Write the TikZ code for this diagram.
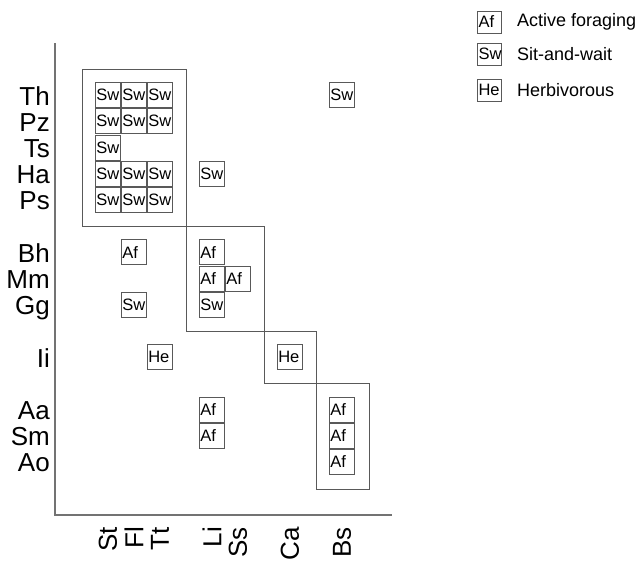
\documentclass[tikz,border=0pt]{standalone}
\usepackage{fontspec}
\setmainfont{Liberation Sans}
\tikzset{
  cell/.style={draw=black!65, line width=0.8pt, inner xsep=0.8pt, inner ysep=0pt,
    text width=23.4pt, minimum height=25pt, align=left, font=\fontsize{16.5}{16.5}\selectfont},
  legbox/.style={cell, text width=22pt, minimum height=22pt},
  legtext/.style={anchor=west, inner sep=0pt, font=\fontsize{18}{18}\selectfont},
  species/.style={anchor=base east, inner sep=0pt, font=\fontsize{26}{26}\selectfont},
  prey/.style={rotate=90, anchor=east, inner sep=0pt, font=\fontsize{26}{26}\selectfont},
  group/.style={draw=black!65, line width=0.8pt},
  axis/.style={draw=black!55, line width=1.2pt},
}
\begin{document}
\begin{tikzpicture}[x=1pt,y=-1pt]
\useasboundingbox (0,0) rectangle (644,562);
% axes
\coordinate (top) at (55,43);
\coordinate (orig) at (55,515);
\coordinate (end) at (392,515);
\draw[axis] (top) -- (orig) -- (end);
% predators (rows)
\foreach \n/\r in {Th/0,Pz/1,Ts/2,Ha/3,Ps/4,Bh/6,Mm/7,Gg/8,Ii/10,Aa/12,Sm/13,Ao/14}
  \node[species] (s-\n) at (50,{95+26.2*\r+10}) {\n};
% prey (columns)
\foreach \n/\c in {St/0,Fl/1,Tt/2,Li/4,Ss/5,Ca/7,Bs/9}
  \node[prey] (p-\n) at ({108+26*\c},527) {\n};
% cells
\foreach \r/\c/\t in {0/0/Sw,0/1/Sw,0/2/Sw,0/9/Sw,
    1/0/Sw,1/1/Sw,1/2/Sw,
    2/0/Sw,
    3/0/Sw,3/1/Sw,3/2/Sw,3/4/Sw,
    4/0/Sw,4/1/Sw,4/2/Sw,
    6/1/Af,6/4/Af,
    7/4/Af,7/5/Af,
    8/1/Sw,8/4/Sw,
    10/2/He,10/7/He,
    12/4/Af,12/9/Af,
    13/4/Af,13/9/Af,
    14/9/Af}
  \node[cell] (c-\r-\c) at ({108+26*\c},{95+26.2*\r}) {\t};
% groups
\draw[group] (82,69) rectangle (186,226);
\draw[group] (186,226) rectangle (264,331);
\draw[group] (264,331) rectangle (316,383);
\draw[group] (316,383) rectangle (369,489);
% legend
\node[legbox] (k-af) at (489.5,22) {Af};
\node[legbox] (k-sw) at (489.5,54) {Sw};
\node[legbox] (k-he) at (489.5,90) {He};
\node[legtext] (t-af) at (517,22) {Active foraging};
\node[legtext] (t-sw) at (517,54) {Sit-and-wait};
\node[legtext] (t-he) at (517,90) {Herbivorous};
\end{tikzpicture}
\end{document}
